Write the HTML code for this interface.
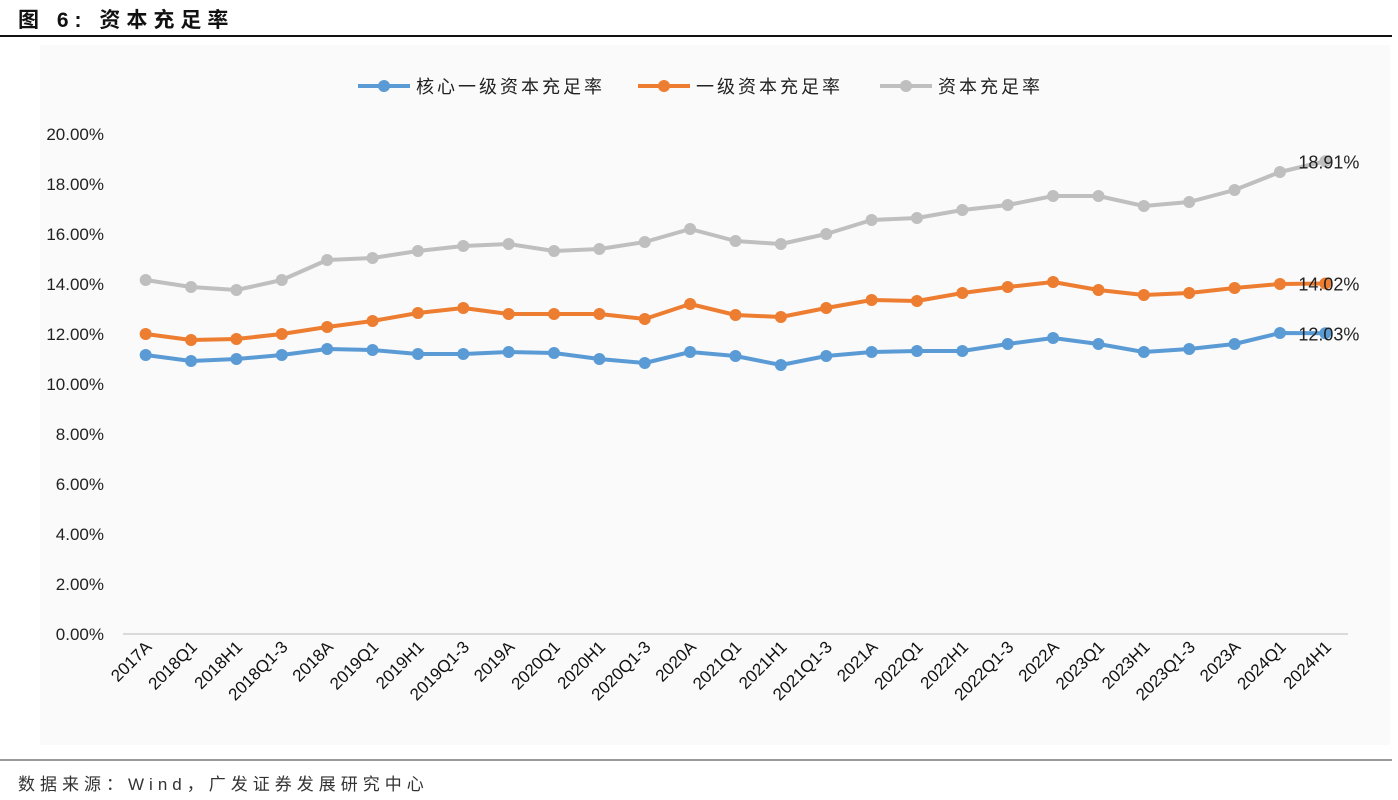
<!DOCTYPE html>
<html><head><meta charset="utf-8"><style>
body{margin:0;width:1398px;height:800px;background:#fff;font-family:"Liberation Sans","Noto Sans CJK SC",sans-serif;overflow:hidden;position:relative}
.title{position:absolute;left:18px;top:4px;font-size:21px;font-weight:bold;color:#111;letter-spacing:6px}
.hr{position:absolute;left:0;top:35px;width:1392px;height:2px;background:#111}
.foot-line{position:absolute;left:0;top:759px;width:1392px;height:2px;background:#999}
.foot{position:absolute;left:18px;top:770px;font-size:17px;color:#333;letter-spacing:5px}
svg{position:absolute;left:0;top:0}
</style></head><body>
<div class="title">图 6: 资本充足率</div>
<div class="hr"></div>
<svg id="chart" width="1398" height="800"></svg>
<div class="foot-line"></div>
<div class="foot">数据来源：Wind，广发证券发展研究中心</div>
<script>
const categories=["2017A","2018Q1","2018H1","2018Q1-3","2018A","2019Q1","2019H1","2019Q1-3","2019A","2020Q1","2020H1","2020Q1-3","2020A","2021Q1","2021H1","2021Q1-3","2021A","2022Q1","2022H1","2022Q1-3","2022A","2023Q1","2023H1","2023Q1-3","2023A","2024Q1","2024H1"];
const core=[11.16,10.92,11.0,11.16,11.4,11.36,11.2,11.2,11.28,11.24,11.0,10.84,11.28,11.12,10.76,11.12,11.28,11.32,11.32,11.6,11.84,11.6,11.28,11.4,11.6,12.04,12.03];
const tier1=[12.0,11.76,11.8,12.0,12.28,12.52,12.84,13.04,12.8,12.8,12.8,12.6,13.2,12.76,12.68,13.04,13.36,13.32,13.64,13.88,14.08,13.76,13.56,13.64,13.84,14.0,14.02];
const total=[14.16,13.88,13.76,14.16,14.96,15.04,15.32,15.52,15.6,15.32,15.4,15.68,16.2,15.72,15.6,16.0,16.56,16.64,16.96,17.16,17.52,17.52,17.12,17.28,17.76,18.48,18.91];
const yTicks=[0,2,4,6,8,10,12,14,16,18,20];
const seriesNames=["核心一级资本充足率","一级资本充足率","资本充足率"];
const colors=["#5b9bd5","#ed7d31","#bfbfbf"];
const svg=document.getElementById('chart');const NS="http://www.w3.org/2000/svg";
const L=123,R=1348,T=134,B=634,ymax=20;
const bw=(R-L)/categories.length;
const x=i=>L+bw*(i+0.5);
const y=v=>B-(v/ymax)*(B-T);
function mk(t,a){const e=document.createElementNS(NS,t);for(const k in a)e.setAttribute(k,a[k]);svg.appendChild(e);return e;}
const bg=mk('rect',{x:40,y:45,width:1350,height:700,fill:'#fafafa'});


yTicks.forEach(v=>{const t=mk('text',{x:104,y:y(v)+6,'text-anchor':'end','font-size':17,fill:'#222'});t.textContent=v.toFixed(2)+'%';

});
const ax=mk('line',{x1:L,x2:R,y1:B,y2:B,stroke:'#d0d0d0','stroke-width':1.5});


categories.forEach((c,i)=>{const t=mk('text',{x:x(i)+7,y:B+14,'text-anchor':'end','font-size':17,fill:'#111',transform:`rotate(-45 ${x(i)+7} ${B+14})`});t.textContent=c;

});
[core,tier1,total].forEach((d,s)=>{
 const p=mk('polyline',{points:d.map((v,i)=>x(i)+','+y(v)).join(' '),fill:'none',stroke:colors[s],'stroke-width':4,'stroke-linejoin':'round'});
 
 
 d.forEach((v,i)=>{const c=mk('circle',{cx:x(i),cy:y(v),r:6,fill:colors[s]});
 
 });
 const last=d.length-1;const t=mk('text',{x:x(last)-27,y:y(d[last])+7,'font-size':18,fill:'#222'});t.textContent=d[last].toFixed(2)+'%';
 
 
});
const lx=[358,638,880];
seriesNames.forEach((n,s)=>{
 const l=mk('line',{x1:lx[s],x2:lx[s]+52,y1:86,y2:86,stroke:colors[s],'stroke-width':4});
 
 
 const c=mk('circle',{cx:lx[s]+26,cy:86,r:6,fill:colors[s]});
 
 
 const t=mk('text',{x:lx[s]+58,y:93,'font-size':18,fill:'#222','letter-spacing':3});t.textContent=n;
 
 
});
</script>
</body></html>
